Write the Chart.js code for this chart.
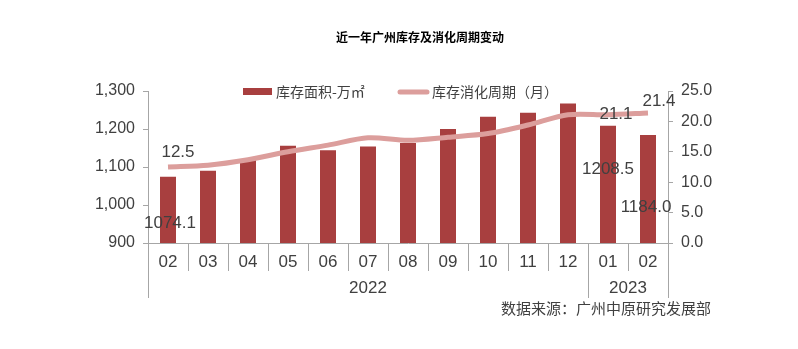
<!DOCTYPE html>
<html>
<head>
<meta charset="utf-8">
<script src="https://cdn.jsdelivr.net/npm/chart.js@4"></script>
<style>
  body { margin: 0; background: #fff; }
  canvas { display: block; }
</style>
</head>
<body>
<canvas id="chart" width="798" height="349"></canvas>
<script>
// 数据
const months = ['02', '03', '04', '05', '06', '07', '08', '09', '10', '11', '12', '01', '02'];
const years = ['2022', '2023'];
const yearSpans = [11, 2];
const stockArea = [1074.1, 1090, 1119, 1156, 1144, 1154, 1163, 1200, 1232, 1243, 1267, 1208.5, 1184.0];
const cycleMonths = [12.5, 12.8, 13.7, 15.0, 16.1, 17.3, 16.9, 17.4, 18.0, 19.4, 21.1, 21.1, 21.4];
const leftTicks = [900, 1000, 1100, 1200, 1300];
const rightTicks = [0, 5, 10, 15, 20, 25];

const barColor = '#a83f3f';
const lineColor = '#dc9e9c';
const axisColor = '#a6a6a6';
const textColor = '#404040';
const latin = '"Liberation Sans", Arial, sans-serif';
const cjk = '"Noto Sans CJK SC", sans-serif';

const decorPlugin = {
    id: 'decor',
    afterDraw(chart) {
        const ctx = chart.ctx;
        const x = chart.scales.x;
        const area = chart.chartArea;
        const step = x.getPixelForValue(1) - x.getPixelForValue(0);

        ctx.save();

        // 标题
        ctx.fillStyle = '#000';
        ctx.font = 'bold 12px ' + cjk;
        ctx.textAlign = 'center';
        ctx.textBaseline = 'middle';
        ctx.fillText('近一年广州库存及消化周期变动', 420, 37);

        // 图例
        ctx.fillStyle = barColor;
        ctx.fillRect(243, 88, 29, 7);
        ctx.fillStyle = textColor;
        ctx.font = '14px ' + cjk;
        ctx.textAlign = 'left';
        ctx.fillText('库存面积-万㎡', 276, 92);
        ctx.strokeStyle = lineColor;
        ctx.lineWidth = 5;
        ctx.lineCap = 'round';
        ctx.beginPath();
        ctx.moveTo(400, 92);
        ctx.lineTo(427, 92);
        ctx.stroke();
        ctx.fillText('库存消化周期（月）', 432, 92);

        // 分类分隔线
        ctx.strokeStyle = axisColor;
        ctx.lineWidth = 1;
        ctx.lineCap = 'butt';
        const bounds = [0];
        yearSpans.reduce((acc, n) => { bounds.push(acc + n); return acc + n; }, 0);
        for (let i = 0; i <= months.length; i++) {
            const px = Math.round(x.getPixelForValue(0) - step / 2 + i * step) + 0.5;
            const long = bounds.includes(i);
            ctx.beginPath();
            ctx.moveTo(px, area.bottom);
            ctx.lineTo(px, long ? 298 : 271);
            ctx.stroke();
        }

        // 年份
        ctx.fillStyle = textColor;
        ctx.font = '17px ' + latin;
        ctx.textAlign = 'center';
        years.forEach((y, i) => {
            const start = bounds[i], end = bounds[i + 1];
            const cx = x.getPixelForValue(0) - step / 2 + (start + end) / 2 * step;
            ctx.fillText(y, cx, 288);
        });

        // 数据标签
        const barMeta = chart.getDatasetMeta(1);
        const lineMeta = chart.getDatasetMeta(0);
        const barLabels = [[0, 2, 46], [11, 0, 44], [12, -2, 72]];
        barLabels.forEach(([i, dx, dy]) => {
            const el = barMeta.data[i];
            ctx.fillText(stockArea[i].toFixed(1), el.x + dx, el.y + dy);
        });
        const lineLabels = [[0, 10, -15], [11, 8, 0], [12, 11, -12]];
        lineLabels.forEach(([i, dx, dy]) => {
            const el = lineMeta.data[i];
            ctx.fillText(cycleMonths[i].toFixed(1), el.x + dx, el.y + dy);
        });

        // 数据来源
        ctx.font = '15px ' + cjk;
        ctx.textAlign = 'right';
        ctx.fillText('数据来源：广州中原研究发展部', 711, 308);

        ctx.restore();
    }
};

const ctx = document.getElementById('chart').getContext('2d');
new Chart(ctx, {
    data: {
        labels: months,
        datasets: [{
            type: 'line',
            label: '库存消化周期（月）',
            data: cycleMonths,
            yAxisID: 'y1',
            borderColor: lineColor,
            borderWidth: 5,
            pointRadius: 0,
            tension: 0.3,
            order: 0
        }, {
            type: 'bar',
            label: '库存面积-万㎡',
            data: stockArea,
            yAxisID: 'y',
            backgroundColor: barColor,
            barPercentage: 0.8,
            categoryPercentage: 0.5,
            order: 1
        }]
    },
    options: {
        responsive: false,
        animation: false,
        layout: {
            autoPadding: false,
            padding: { top: 91, left: 0, right: 0, bottom: 0 }
        },
        plugins: {
            legend: { display: false },
            tooltip: { enabled: false }
        },
        scales: {
            x: {
                grid: { display: false },
                border: { display: true, color: axisColor },
                ticks: {
                    color: textColor,
                    font: { family: latin, size: 17 },
                    padding: 1,
                    maxRotation: 0,
                    autoSkip: false
                },
                afterFit: s => { s.height = 106; }
            },
            y: {
                position: 'left',
                min: 900,
                max: 1300,
                afterBuildTicks: s => { s.ticks = leftTicks.map(v => ({ value: v })); },
                grid: { drawOnChartArea: false, tickLength: 5, color: axisColor },
                border: { color: axisColor },
                ticks: {
                    color: textColor,
                    font: { family: latin, size: 16 },
                    padding: 8,
                    callback: v => v.toLocaleString('en-US')
                },
                afterFit: s => { s.width = 148; }
            },
            y1: {
                position: 'right',
                min: 0,
                max: 25,
                afterBuildTicks: s => { s.ticks = rightTicks.map(v => ({ value: v })); },
                grid: { drawOnChartArea: false, tickLength: 5, color: axisColor },
                border: { color: axisColor },
                ticks: {
                    color: textColor,
                    font: { family: latin, size: 16 },
                    padding: 8,
                    callback: v => Number(v).toFixed(1)
                },
                afterFit: s => { s.width = 130; }
            }
        }
    },
    plugins: [decorPlugin]
});
</script>
</body>
</html>
